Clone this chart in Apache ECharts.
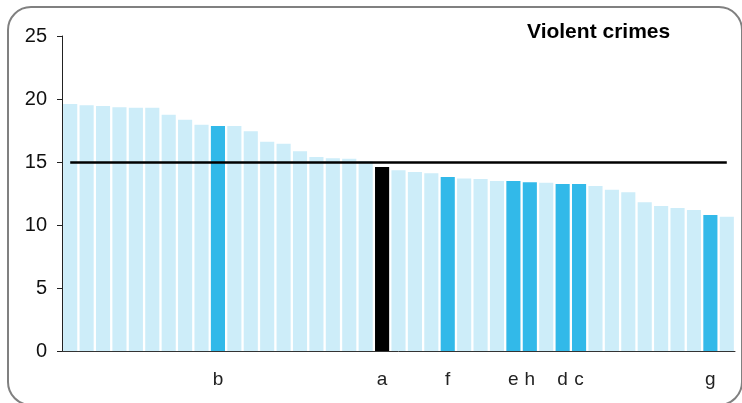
<!DOCTYPE html>
<html>
<head>
<meta charset="utf-8">
<script src="https://cdn.jsdelivr.net/npm/echarts@6/dist/echarts.min.js"></script>
<style>html,body{margin:0;padding:0;background:#fff}#c{width:742px;height:403px}</style>
</head>
<body>
<div id="c"></div>
<script>
// Category labels (only some bars are labelled)
var categories = ['', '', '', '', '', '', '', '', '', 'b', '', '', '', '', '', '', '', '', '', 'a',
  '', '', '', 'f', '', '', '', 'e', 'h', '', 'd', 'c', '', '', '', '', '', '', '', 'g', ''];
// Violent crimes values
var values = [19.6, 19.5, 19.45, 19.35, 19.3, 19.3, 18.75, 18.35, 17.95, 17.85, 17.85, 17.45,
  16.6, 16.45, 15.85, 15.4, 15.3, 15.25, 15.05, 14.6, 14.35, 14.2, 14.1,
  13.8, 13.7, 13.65, 13.5, 13.5, 13.4, 13.35, 13.25, 13.25, 13.1, 12.8, 12.6,
  11.8, 11.5, 11.35, 11.2, 10.8, 10.65];
// Highlight type per bar: 0 = other, 1 = highlighted, 2 = reference
var highlight = [0,0,0,0,0,0,0,0,0,1,0,0,0,0,0,0,0,0,0,2,0,0,0,1,0,0,0,1,1,0,1,1,0,0,0,0,0,0,0,1,0];
var threshold = 15;
var yTicks = [0, 5, 10, 15, 20, 25];
var title = 'Violent crimes';

var colors = ['#cdedf9', '#32b9e9', '#000000'];
var font = 'Liberation Sans, Arial, sans-serif';

var chart = echarts.init(document.getElementById('c'));
chart.setOption({
  animation: false,
  title: {
    text: title, left: 527, top: 22, padding: 0,
    textStyle: { fontFamily: font, fontSize: 21, fontWeight: 'bold', color: '#000' }
  },
  graphic: [{
    type: 'rect', silent: true,
    shape: { x: 8, y: 7, width: 734, height: 398, r: 23 },
    style: { fill: 'none', stroke: '#808080', lineWidth: 2 }
  }],
  grid: { left: 62, right: 7, top: 36, bottom: 52, containLabel: false },
  xAxis: {
    type: 'category', data: categories,
    axisLine: { lineStyle: { color: '#333', width: 1 } },
    axisTick: { show: false },
    axisLabel: { interval: 0, margin: 19, fontFamily: font, fontSize: 19, color: '#222' }
  },
  yAxis: {
    type: 'value', min: yTicks[0], max: yTicks[yTicks.length - 1], interval: 5,
    splitLine: { show: false },
    axisLine: { show: true, lineStyle: { color: '#222', width: 1 } },
    axisTick: { show: true, length: 5, lineStyle: { color: '#222' } },
    axisLabel: { margin: 15, fontFamily: font, fontSize: 20, color: '#111' }
  },
  series: [{
    type: 'bar',
    barCategoryGap: '14%',
    data: values.map(function (v, i) {
      return { value: v, itemStyle: { color: colors[highlight[i]] } };
    }),
    markLine: {
      silent: true, symbol: 'none', label: { show: false },
      lineStyle: { color: '#000', width: 2.5, type: 'solid' },
      data: [[{ coord: [0, threshold] }, { coord: [categories.length - 1, threshold] }]]
    }
  }]
});
</script>
</body>
</html>
